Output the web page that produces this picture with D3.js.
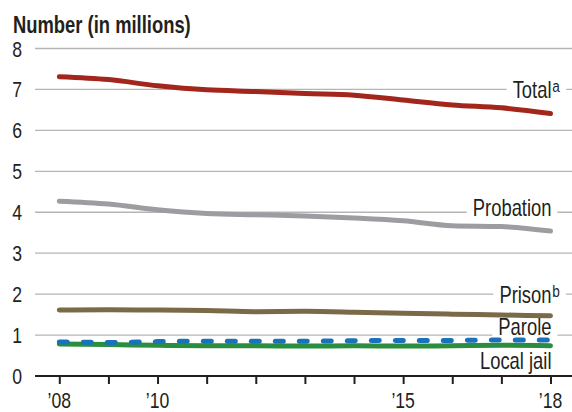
<!DOCTYPE html>
<html>
<head>
<meta charset="utf-8">
<script src="https://cdn.jsdelivr.net/npm/d3@7"></script>
<style>
  body { margin: 0; background: #fff; }
  svg { display: block; font-family: "Liberation Sans", Arial, sans-serif; }
</style>
</head>
<body>
<svg width="572" height="412"></svg>
<script>
// years on the x axis
const years = [2008, 2009, 2010, 2011, 2012, 2013, 2014, 2015, 2016, 2017, 2018];
const yearLabels = {2008: "’08", 2010: "’10", 2015: "’15", 2018: "’18"};
const yTicks = [0, 1, 2, 3, 4, 5, 6, 7, 8];

// values in millions
const total     = [7.31, 7.24, 7.09, 6.99, 6.95, 6.90, 6.86, 6.74, 6.62, 6.55, 6.41];
const probation = [4.27, 4.20, 4.06, 3.97, 3.94, 3.91, 3.86, 3.79, 3.67, 3.65, 3.54];
const prison    = [1.61, 1.62, 1.61, 1.60, 1.57, 1.58, 1.56, 1.53, 1.51, 1.49, 1.47];
const localJail = [0.78, 0.77, 0.75, 0.74, 0.74, 0.73, 0.74, 0.73, 0.74, 0.75, 0.74];
const parole    = [0.83, 0.82, 0.84, 0.85, 0.85, 0.85, 0.86, 0.87, 0.87, 0.88, 0.88];

const series = [
  {name: "Total", sup: "a", values: total, color: "#a3261d", labelAt: 7, dy: 9},
  {name: "Probation", sup: "", values: probation, color: "#9c9da1", labelAt: 4, dy: 4},
  {name: "Prison", sup: "b", values: prison, color: "#7b6a47", labelAt: 2, dy: 9},
  {name: "Local jail", sup: "", values: localJail, color: "#2b8e3e", labelAt: 0.4, dy: 9},
  {name: "Parole", sup: "", values: parole, color: "#1a72bb", labelAt: 1, dy: 0, dash: "8,16"}
];

const svg = d3.select("svg");
const area = {left: 35, right: 572, top: 48.5, bottom: 376};
const squeeze = 0.8; // condensed look

const x = d3.scaleLinear().domain([2008, 2018]).range([59.3, 550.5]);
const y = d3.scaleLinear().domain([0, 8]).range([area.bottom, area.top]);

function condText(g, px, py, anchor, size) {
  return g.append("text")
    .attr("transform", `translate(${px},${py}) scale(${squeeze},1)`)
    .attr("text-anchor", anchor)
    .style("font-size", size + "px")
    .style("fill", "#231f20");
}

// title
condText(svg, 13, 33, "start", 23)
  .style("font-weight", "bold")
  .text("Number (in millions)");

// gridlines
svg.selectAll(".grid")
  .data(yTicks.filter(d => d > 0))
  .enter().append("line")
  .attr("class", "grid")
  .attr("x1", area.left).attr("x2", area.right)
  .attr("y1", d => y(d)).attr("y2", d => y(d))
  .style("stroke", "#b5b5b5").style("stroke-width", 1.3);

// y labels
yTicks.forEach(d => {
  condText(svg, 22, y(d) + 8, "end", 22).text(d);
});

// x axis
const axisX = d3.axisBottom(x)
  .tickValues(years)
  .tickSize(8)
  .tickFormat("");
const gx = svg.append("g")
  .attr("transform", `translate(0,${area.bottom})`)
  .call(axisX);
gx.select(".domain").remove();
gx.selectAll(".tick line").style("stroke", "#231f20").style("stroke-width", 2);
years.filter(d => yearLabels[d]).forEach(d => {
  condText(svg, x(d), 408, "middle", 22).text(yearLabels[d]);
});
svg.append("line")
  .attr("x1", area.left).attr("x2", area.right)
  .attr("y1", area.bottom).attr("y2", area.bottom)
  .style("stroke", "#231f20").style("stroke-width", 2.2);

// labels with white background
const labelG = svg.append("g");
series.forEach(s => {
  const t = condText(labelG, 0, 0, "start", 23);
  t.append("tspan").text(s.name);
  if (s.sup) {
    t.append("tspan").attr("dx", 1).attr("dy", -6).style("font-size", "17px").text(s.sup);
  }
  // right-align the name at the line end, superscript hangs past it
  const nameW = t.select("tspan").node().getComputedTextLength() * squeeze;
  const tx = x(2018) + 1 - nameW, ty = y(s.labelAt) + s.dy;
  t.attr("transform", `translate(${tx},${ty}) scale(${squeeze},1)`);
  const bb = t.node().getBBox();
  labelG.insert("rect", "text")
    .attr("x", tx + bb.x * squeeze - 6).attr("y", ty + bb.y + 3)
    .attr("width", bb.width * squeeze + 12).attr("height", bb.height - 6)
    .style("fill", "#fff");
});

// lines
const line = d3.line()
  .x((d, i) => x(years[i]))
  .y(d => y(d))
  .curve(d3.curveMonotoneX);

series.forEach(s => {
  svg.append("path")
    .datum(s.values)
    .attr("d", line)
    .style("fill", "none")
    .style("stroke", s.color)
    .style("stroke-width", 5)
    .style("stroke-linecap", "round")
    .style("stroke-dasharray", s.dash || null);
});
</script>
</body>
</html>
